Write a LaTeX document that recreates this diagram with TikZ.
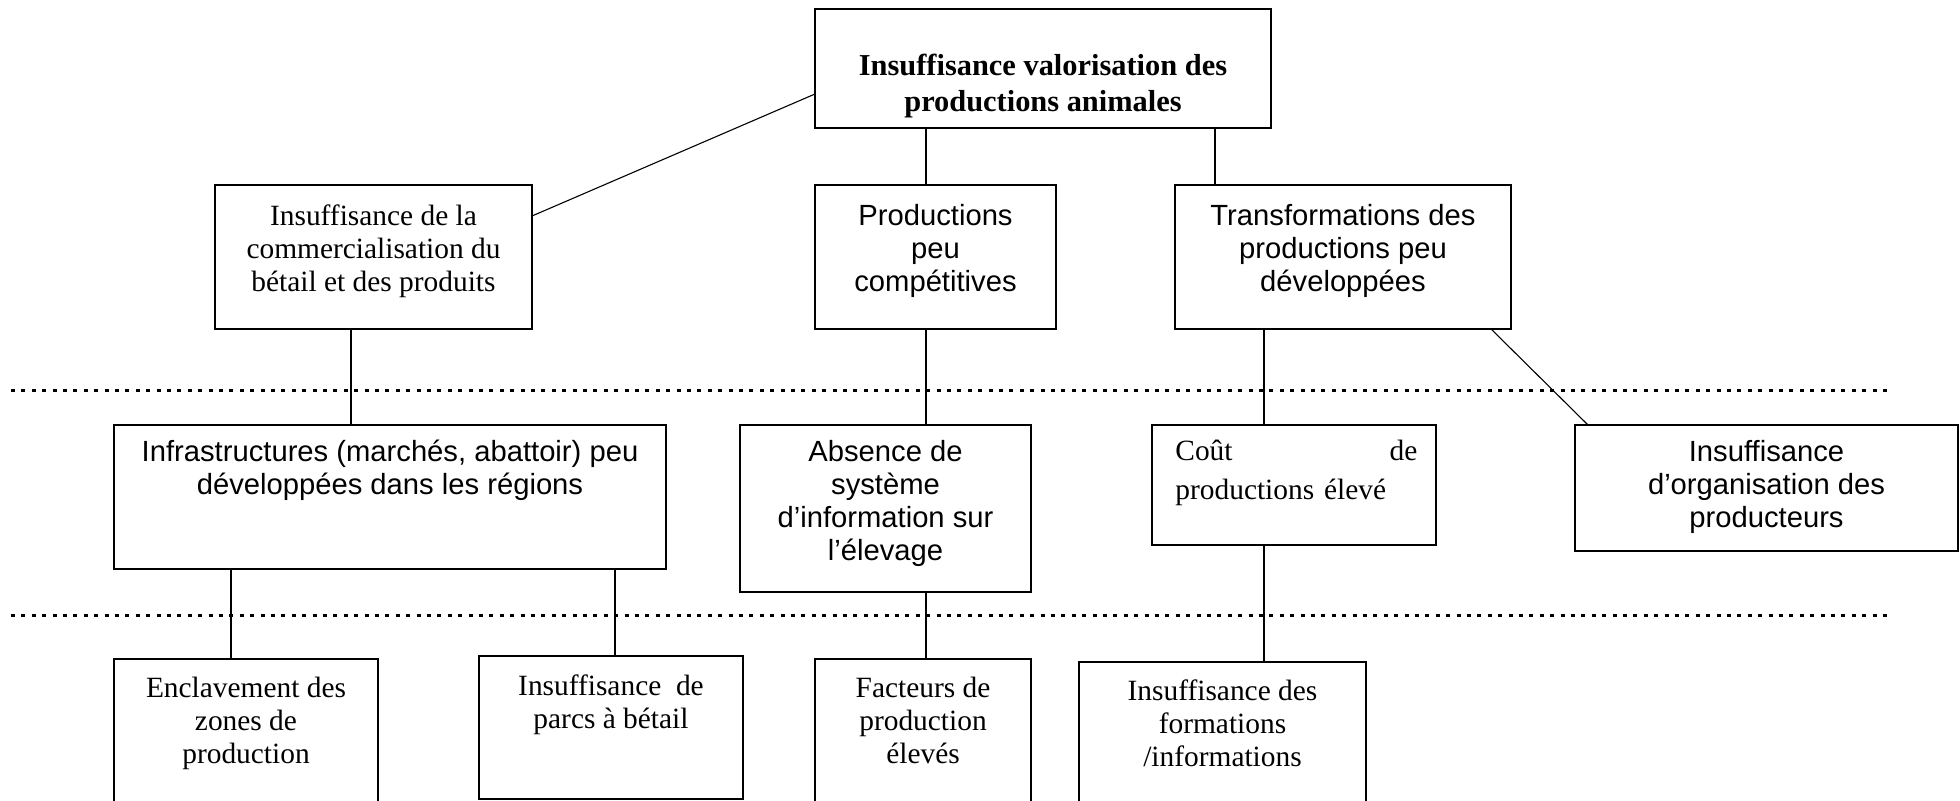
\documentclass[tikz,border=0pt]{standalone}
\usepackage{fontspec}
\setmainfont{Liberation Serif}
\setsansfont{Liberation Sans}
\begin{document}
\begin{tikzpicture}[x=0.5pt,y=-0.5pt,
  box/.style={draw,line width=0.8pt,rectangle,inner sep=0pt,outer sep=0pt},
  conn/.style={line width=0.55pt},
  sep/.style={line width=1.5pt,dash pattern=on 2pt off 3.2pt},
  serif/.style={font=\fontsize{14.7}{16.5}\selectfont,align=center,inner sep=0pt,anchor=north},
  sans/.style={font=\sffamily\fontsize{14.6}{16.5}\selectfont,align=center,inner sep=0pt,anchor=north},
  boldtxt/.style={font=\bfseries\fontsize{15.2}{18}\selectfont,align=center,inner sep=0pt,anchor=north}]
\useasboundingbox (0,0) rectangle (1960,801);
% boxes
\node[box,minimum width=228pt,minimum height=59.5pt] (top) at (1043,68.5) {};
\node[box,minimum width=158.5pt,minimum height=72pt] (A) at (373.5,257) {};
\node[box,minimum width=120.5pt,minimum height=72pt] (B) at (935.5,257) {};
\node[box,minimum width=168pt,minimum height=72pt] (C) at (1343,257) {};
\node[box,minimum width=276pt,minimum height=72pt] (D) at (390,497) {};
\node[box,minimum width=145.5pt,minimum height=83.5pt] (E) at (885.5,508.5) {};
\node[box,minimum width=142pt,minimum height=60pt] (F) at (1294,485) {};
\node[box,minimum width=191.5pt,minimum height=63pt] (G) at (1766.5,488) {};
\node[box,minimum width=132pt,minimum height=80.5pt] (H) at (246,739.5) {};
\node[box,minimum width=132pt,minimum height=71.5pt] (I) at (611,727.5) {};
\node[box,minimum width=108pt,minimum height=80.5pt] (J) at (923,739.5) {};
\node[box,minimum width=143.5pt,minimum height=79pt] (K) at (1222.5,741) {};
% texts
\node[boldtxt] (tTop) at (1043,54) {Insuffisance valorisation des\\productions animales};
\node[serif] (tA) at (373.5,204) {Insuffisance de la\\commercialisation du\\bétail et des produits};
\node[sans] (tB) at (935.5,204) {Productions\\peu\\compétitives};
\node[sans] (tC) at (1343,204) {Transformations des\\productions peu\\développées};
\node[sans] (tD) at (390,440) {Infrastructures (marchés, abattoir) peu\\développées dans les régions};
\node[sans] (tE) at (885.5,440) {Absence de\\système\\d’information sur\\l’élevage};
\node[serif,font=\fontsize{14.7}{19.5}\selectfont,anchor=north west,align=left,text width=121pt] (tF) at (1175,440) {Coût\hfill de\\productions élevé};
\node[sans] (tG) at (1766.5,440) {Insuffisance\\d’organisation des\\producteurs};
\node[serif] (tH) at (246,677) {Enclavement des\\zones de\\production};
\node[serif] (tI) at (611,674) {Insuffisance\ \ de\\parcs à bétail};
\node[serif] (tJ) at (923,677) {Facteurs de\\production\\élevés};
\node[serif] (tK) at (1222.5,679) {Insuffisance des\\formations\\/informations};
% connectors
\draw[conn] (top.west |- 0,94) -- (A.north east |- 0,216);
\draw[conn] (top.south -| 926,0) -- (B.north -| 926,0);
\draw[conn] (top.south -| 1215,0) -- (C.north -| 1215,0);
\draw[conn] (A.south -| 351,0) -- (D.north -| 351,0);
\draw[conn] (B.south -| 926,0) -- (E.north -| 926,0);
\draw[conn] (C.south -| 1264,0) -- (F.north -| 1264,0);
\draw[conn] (C.south -| 1491,0) -- (G.north -| 1588,0);
\draw[conn] (D.south -| 231,0) -- (H.north -| 231,0);
\draw[conn] (D.south -| 615,0) -- (I.north -| 615,0);
\draw[conn] (E.south -| 926,0) -- (J.north -| 926,0);
\draw[conn] (F.south -| 1264,0) -- (K.north -| 1264,0);
% separators
\coordinate (s1a) at (11,390.5);
\coordinate (s1b) at (1888,390.5);
\coordinate (s2a) at (11,615.5);
\coordinate (s2b) at (1888,615.5);
\draw[sep] (s1a) -- (s1b);
\draw[sep] (s2a) -- (s2b);
\end{tikzpicture}
\end{document}
